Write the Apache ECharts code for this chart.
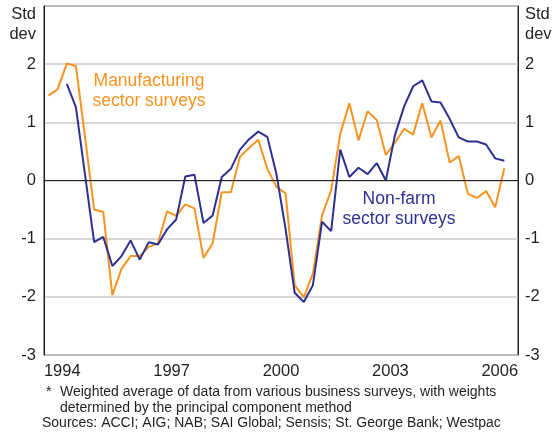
<!DOCTYPE html>
<html>
<head>
<meta charset="utf-8">
<script src="https://cdn.jsdelivr.net/npm/echarts@6/dist/echarts.min.js"></script>
<style>
html, body { margin: 0; padding: 0; background: #fff; }
#chart { width: 557px; height: 435px; }
</style>
</head>
<body>
<div id="chart"></div>
<script>
// x axis labels (one band per year)
var years = ['1994', '1995', '1996', '1997', '1998', '1999', '2000',
             '2001', '2002', '2003', '2004', '2005', '2006'];
var yTicks = [-3, -2, -1, 0, 1, 2];

// quarterly readings, manufacturing from 1994 Q1, non-farm from 1994 Q3
var manufStart = '1994Q1';
var manufValues = [1.46, 1.57, 2.01, 1.97, 0.75, -0.50, -0.54, -1.97, -1.52, -1.30,
                   -1.30, -1.14, -1.08, -0.53, -0.61, -0.41, -0.48, -1.33, -1.08, -0.20,
                   -0.20, 0.41, 0.56, 0.70, 0.20, -0.11, -0.22, -1.80, -2.01, -1.60,
                   -0.60, -0.17, 0.80, 1.33, 0.69, 1.19, 1.04, 0.44, 0.65, 0.89,
                   0.79, 1.33, 0.74, 1.03, 0.31, 0.42, -0.23, -0.30, -0.18, -0.46,
                   0.21];
var nonFarmStart = '1994Q3';
var nonFarmValues = [1.66, 1.26, 0.10, -1.06, -0.97, -1.47, -1.30, -1.03, -1.36, -1.06,
                     -1.10, -0.84, -0.67, 0.07, 0.10, -0.73, -0.60, 0.06, 0.20, 0.53,
                     0.71, 0.84, 0.75, 0.11, -0.83, -1.93, -2.09, -1.80, -0.71, -0.87,
                     0.53, 0.06, 0.22, 0.11, 0.30, 0.00, 0.78, 1.27, 1.62, 1.72,
                     1.36, 1.34, 1.06, 0.74, 0.67, 0.67, 0.62, 0.38, 0.34];

var orange = '#f7931e';
var blue = '#2e3192';
var ink = '#231f20';
var font = 'Liberation Sans, Arial, Helvetica, sans-serif';

// quarter -> decimal year at the middle of the quarter
function toPoints(start, values) {
  var y = +start.slice(0, 4);
  var q = +start.slice(5);
  var out = [];
  for (var i = 0; i < values.length; i++) {
    out.push([y + (q - 0.5) / 4, values[i]]);
    q++;
    if (q > 4) { q = 1; y++; }
  }
  return out;
}

function note(x, y, text, color, size, align, lh) {
  return {
    type: 'text', x: x, y: y, silent: true,
    style: {
      text: text, fill: color, font: size + 'px ' + font,
      align: align || 'left', verticalAlign: 'middle', lineHeight: lh || 20
    }
  };
}

var chart = echarts.init(document.getElementById('chart'));
chart.setOption({
  animation: false,
  grid: {
    left: 44, right: 39, top: 6, bottom: 80,
    show: true, borderColor: ink, borderWidth: 1
  },
  xAxis: [{
    type: 'category',
    data: years,
    boundaryGap: true,
    axisLine: { lineStyle: { color: ink, width: 1 } },
    axisTick: { inside: true, length: 6, interval: 0, lineStyle: { color: ink } },
    axisLabel: {
      color: ink, fontSize: 16.5, fontFamily: font, margin: 8,
      interval: function (i) { return i % 3 === 0; }
    },
    splitLine: { show: false }
  }, {
    type: 'value',
    min: 1994, max: 2007,
    show: false,
    position: 'bottom'
  }],
  yAxis: [{
    type: 'value',
    min: -3, max: 3, interval: 1,
    position: 'left',
    axisLine: { show: true, lineStyle: { color: ink } },
    axisTick: { show: false },
    axisLabel: {
      color: ink, fontSize: 16.5, fontFamily: font, margin: 8,
      formatter: function (v) { return yTicks.indexOf(v) >= 0 ? String(v) : ''; }
    },
    splitLine: { show: true, lineStyle: { color: '#c9cbcd', width: 1.5 } }
  }, {
    type: 'value',
    min: -3, max: 3, interval: 1,
    position: 'right',
    axisLine: { show: true, lineStyle: { color: ink } },
    axisTick: { show: false },
    axisLabel: {
      color: ink, fontSize: 16.5, fontFamily: font, margin: 7,
      formatter: function (v) { return yTicks.indexOf(v) >= 0 ? String(v) : ''; }
    },
    splitLine: { show: false }
  }],
  graphic: [
    note(36, 24, 'Std\ndev', ink, 16.5, 'right'),
    note(525, 24, 'Std\ndev', ink, 16.5, 'left'),
    note(149, 91, 'Manufacturing\nsector surveys', orange, 17.5, 'center'),
    note(399, 209, 'Non-farm\nsector surveys', blue, 17.5, 'center'),
    note(46, 392, '*', ink, 14),
    note(60, 400, 'Weighted average of data from various business surveys, with weights\ndetermined by the principal component method', ink, 14, 'left', 15.5),
    note(42, 423, 'Sources: ACCI; AIG; NAB; SAI Global; Sensis; St. George Bank; Westpac', ink, 14)
  ],
  series: [{
    name: 'Manufacturing sector surveys',
    type: 'line',
    xAxisIndex: 1,
    yAxisIndex: 0,
    data: toPoints(manufStart, manufValues),
    showSymbol: false,
    lineStyle: { color: orange, width: 2 },
    itemStyle: { color: orange },
    markLine: {
      silent: true, symbol: 'none', label: { show: false },
      lineStyle: { color: ink, width: 1, type: 'solid' },
      data: [{ yAxis: 0 }]
    },
    z: 3
  }, {
    name: 'Non-farm sector surveys',
    type: 'line',
    xAxisIndex: 1,
    yAxisIndex: 0,
    data: toPoints(nonFarmStart, nonFarmValues),
    showSymbol: false,
    lineStyle: { color: blue, width: 2 },
    itemStyle: { color: blue },
    z: 4
  }]
});
</script>
</body>
</html>
